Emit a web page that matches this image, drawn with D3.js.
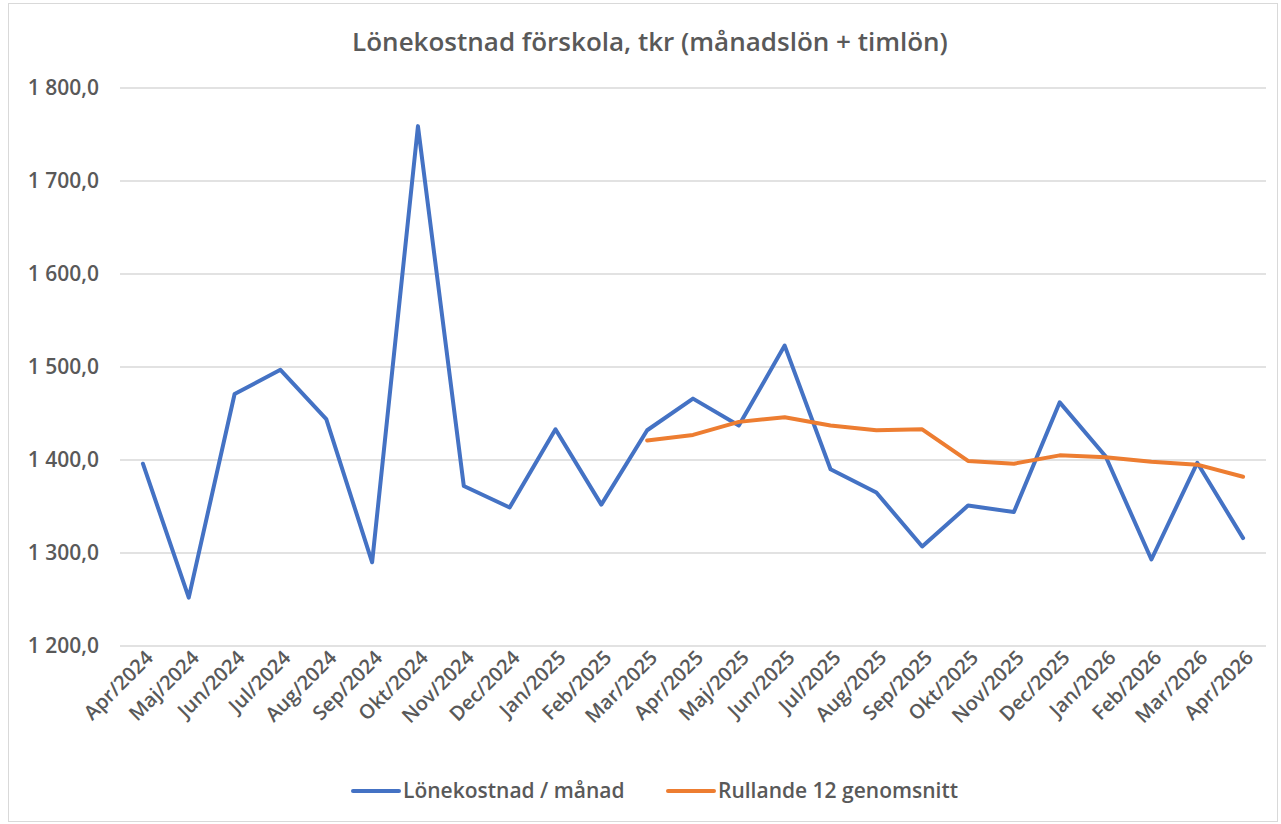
<!DOCTYPE html>
<html>
<head>
<meta charset="utf-8">
<script src="https://cdn.jsdelivr.net/npm/d3@7"></script>
<style>
  body { margin: 0; background: #fff; }
  svg { display: block; }
  text { font-family: "Open Sans", sans-serif; fill: #595959; }
</style>
</head>
<body>
<div id="chart"></div>
<script>
// Lönekostnad förskola - monthly values
const months = ['Apr/2024', 'Maj/2024', 'Jun/2024', 'Jul/2024', 'Aug/2024', 'Sep/2024',
    'Okt/2024', 'Nov/2024', 'Dec/2024', 'Jan/2025', 'Feb/2025', 'Mar/2025',
    'Apr/2025', 'Maj/2025', 'Jun/2025', 'Jul/2025', 'Aug/2025', 'Sep/2025',
    'Okt/2025', 'Nov/2025', 'Dec/2025', 'Jan/2026', 'Feb/2026', 'Mar/2026', 'Apr/2026'];

const lonekostnad = [1396, 1252, 1471, 1497, 1444, 1290, 1759, 1372, 1349, 1433, 1352, 1432,
    1466, 1437, 1523, 1390, 1365, 1307, 1351, 1344, 1462, 1404, 1293, 1397, 1316];

// rolling 12 average only starts at Mar/2025
const rullande = [null, null, null, null, null, null, null, null, null, null, null, 1421,
    1427, 1441, 1446, 1437, 1432, 1433, 1399, 1396, 1405, 1403, 1398, 1395, 1382];

const yTicks = [1200, 1300, 1400, 1500, 1600, 1700, 1800];

const title = 'Lönekostnad förskola, tkr (månadslön + timlön)';
const seriesNames = ['Lönekostnad / månad', 'Rullande 12 genomsnitt'];
const colors = ['#4472C4', '#ED7D31'];

const width = 1281, height = 824;
const margin = { top: 88, right: 15, bottom: 178, left: 120 };

const svg = d3.select('#chart')
    .append('svg')
    .attr('width', width)
    .attr('height', height);

// chart frame
svg.append('rect')
    .attr('x', 8.5).attr('y', 3.5)
    .attr('width', width - 12).attr('height', height - 6)
    .attr('fill', '#fff')
    .attr('stroke', '#d9d9d9');

svg.append('text')
    .attr('x', 650).attr('y', 51)
    .attr('text-anchor', 'middle')
    .attr('font-size', '26px')
    .attr('font-weight', 600)
    .text(title);

const x = d3.scalePoint()
    .domain(months)
    .range([margin.left, width - margin.right])
    .padding(0.5);

const y = d3.scaleLinear()
    .domain([1200, 1800])
    .range([height - margin.bottom, margin.top]);

// swedish number format: 1 800,0
const sv = d3.formatLocale({ decimal: ',', thousands: '\u00a0', grouping: [3], currency: ['', ' kr'] });
const fmt = sv.format(',.1f');

// gridlines
svg.append('g')
    .selectAll('line')
    .data(yTicks)
    .join('line')
    .attr('x1', margin.left)
    .attr('x2', width - margin.right)
    .attr('y1', d => y(d))
    .attr('y2', d => y(d))
    .attr('stroke', '#d9d9d9')
    .attr('stroke-width', 1.5);

const yAxis = svg.append('g')
    .attr('transform', `translate(${margin.left},0)`)
    .call(d3.axisLeft(y).tickValues(yTicks).tickFormat(fmt).tickSize(0).tickPadding(21));
yAxis.select('.domain').remove();
yAxis.selectAll('text')
    .attr('font-size', '21px')
    .attr('font-weight', 600)
    .attr('fill', '#595959')
    .style('font-family', '"Open Sans", sans-serif');

// category labels, rotated like Excel
const xAxis = svg.append('g')
    .attr('transform', `translate(0,${height - margin.bottom})`)
    .call(d3.axisBottom(x).tickSize(0).tickPadding(0));
xAxis.select('.domain').remove();
xAxis.selectAll('text')
    .attr('font-size', '20px')
    .attr('font-weight', 600)
    .attr('fill', '#595959')
    .style('font-family', '"Open Sans", sans-serif')
    .attr('text-anchor', 'end')
    .attr('dy', null)
    .attr('y', 0)
    .attr('transform', 'translate(11,13) rotate(-45)');

const line = d3.line()
    .defined(d => d.v != null)
    .x(d => x(d.m))
    .y(d => y(d.v));

[lonekostnad, rullande].forEach((vals, i) => {
    svg.append('path')
        .datum(months.map((m, j) => ({ m, v: vals[j] })))
        .attr('fill', 'none')
        .attr('stroke', colors[i])
        .attr('stroke-width', 4)
        .attr('stroke-linejoin', 'round')
        .attr('stroke-linecap', 'round')
        .attr('d', line);
});

// legend
const legendX = [353, 668];
const legend = svg.append('g');
seriesNames.forEach((name, i) => {
    legend.append('line')
        .attr('x1', legendX[i]).attr('x2', legendX[i] + 46)
        .attr('y1', 791).attr('y2', 791)
        .attr('stroke', colors[i])
        .attr('stroke-width', 4)
        .attr('stroke-linecap', 'round');
    legend.append('text')
        .attr('x', legendX[i] + 50)
        .attr('y', 798)
        .attr('font-size', '21px')
        .attr('font-weight', 600)
        .text(name);
});
</script>
</body>
</html>
